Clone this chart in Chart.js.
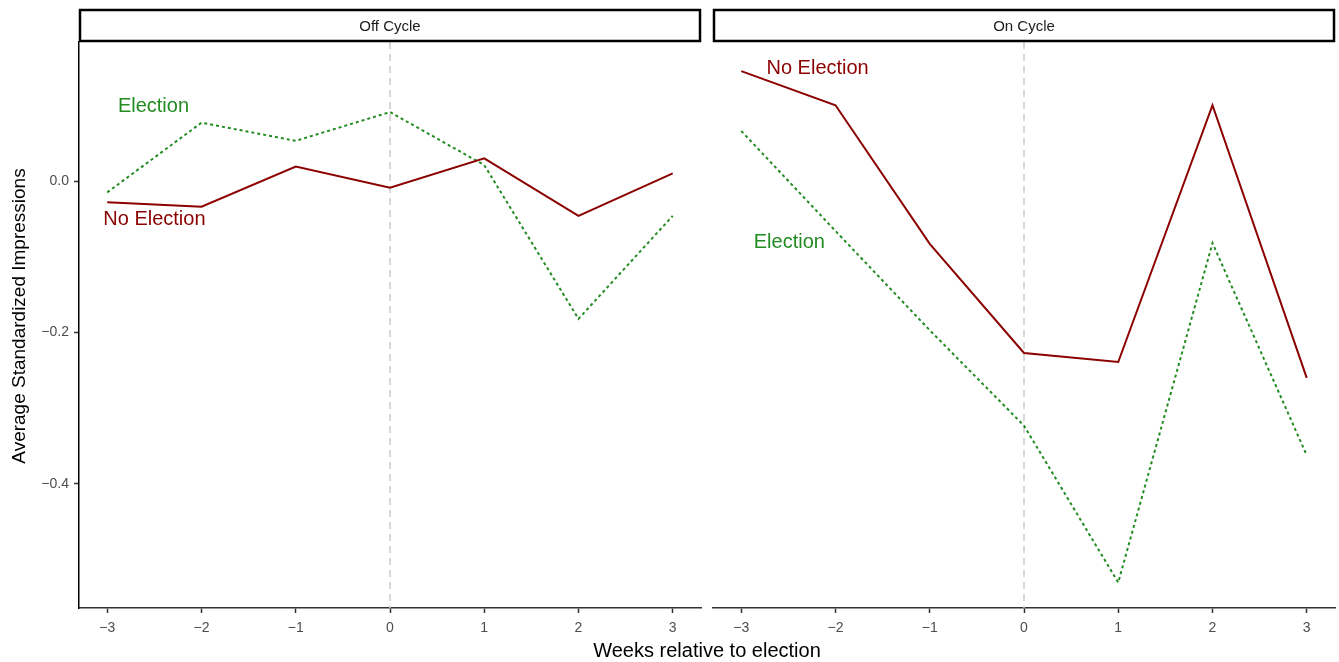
<!DOCTYPE html>
<html>
<head>
<meta charset="utf-8">
<script src="https://cdn.jsdelivr.net/npm/chart.js@4"></script>
<style>
  body { margin: 0; background: #fff; width: 1339px; height: 662px; position: relative; overflow: hidden; font-family: "Liberation Sans", Arial, sans-serif; }
  #leftWrap { position: absolute; left: 0; top: 0; width: 705px; height: 662px; }
  #rightWrap { position: absolute; left: 705px; top: 0; width: 634px; height: 662px; }
  #xTitle { position: absolute; left: 0; width: 1414px; top: 638px; text-align: center; font-size: 20px; line-height: 24px; color: #000; }
</style>
</head>
<body>
<div id="leftWrap"><canvas id="offChart"></canvas></div>
<div id="rightWrap"><canvas id="onChart"></canvas></div>
<div id="xTitle">Weeks relative to election</div>
<script>
// datos
const weeks = [-3, -2, -1, 0, 1, 2, 3];
const offNoElection = [-0.028, -0.034, 0.019, -0.009, 0.030, -0.046, 0.010];
const offElection = [-0.015, 0.077, 0.053, 0.091, 0.021, -0.182, -0.046];
const onNoElection = [0.145, 0.100, -0.083, -0.227, -0.239, 0.100, -0.260];
const onElection = [0.066, -0.066, -0.197, -0.323, -0.530, -0.082, -0.362];
const yTicks = [-0.4, -0.2, 0.0];
const panelTitles = ["Off Cycle", "On Cycle"];

const RED = "#8B0000";
const GREEN = "#228B22";
const FONT = "'Liberation Sans', Arial, sans-serif";
const minus = s => s.replace("-", "\u2212");

// dibuja la cabecera del panel, la línea vertical en 0 y las etiquetas
const panelPlugin = {
    id: "panelPlugin",
    beforeDatasetsDraw(chart) {
        const ctx = chart.ctx, a = chart.chartArea, x0 = chart.scales.x.getPixelForValue(0);
        ctx.save();
        ctx.strokeStyle = "#cccccc";
        ctx.lineWidth = 1.5;
        ctx.setLineDash([7, 5]);
        ctx.beginPath();
        ctx.moveTo(x0, a.top);
        ctx.lineTo(x0, a.bottom);
        ctx.stroke();
        ctx.restore();
    },
    afterDraw(chart, args, opts) {
        const ctx = chart.ctx, a = chart.chartArea;
        ctx.save();
        ctx.fillStyle = "#fff";
        ctx.strokeStyle = "#000";
        ctx.lineWidth = 2.5;
        ctx.fillRect(a.left, 10, a.right - a.left, 31);
        ctx.strokeRect(a.left + 1, 10, a.right - a.left - 2, 31);
        ctx.fillStyle = "#1a1a1a";
        ctx.font = "15px " + FONT;
        ctx.textAlign = "center";
        ctx.textBaseline = "middle";
        ctx.fillText(opts.title, (a.left + a.right) / 2, 26.5);
        ctx.font = "20px " + FONT;
        opts.labels.forEach(l => {
            ctx.fillStyle = l.color;
            ctx.fillText(l.text, chart.scales.x.getPixelForValue(l.x), chart.scales.y.getPixelForValue(l.y));
        });
        if (opts.yTitle) {
            ctx.translate(20, 316);
            ctx.rotate(-Math.PI / 2);
            ctx.fillStyle = "#000";
            ctx.font = "19px " + FONT;
            ctx.fillText(opts.yTitle, 0, 0);
        }
        ctx.restore();
    }
};

function makeChart(id, noElec, elec, title, labels, showY, padding) {
    const ctx = document.getElementById(id).getContext("2d");
    return new Chart(ctx, {
        type: "line",
        data: {
            datasets: [
                {
                    label: "No Election",
                    data: weeks.map((w, i) => ({ x: w, y: noElec[i] })),
                    borderColor: RED,
                    borderWidth: 2,
                    pointRadius: 0,
                    tension: 0
                },
                {
                    label: "Election",
                    data: weeks.map((w, i) => ({ x: w, y: elec[i] })),
                    borderColor: GREEN,
                    borderWidth: 2,
                    borderDash: [3, 3],
                    pointRadius: 0,
                    tension: 0
                }
            ]
        },
        options: {
            responsive: false,
            animation: false,
            layout: { padding: padding },
            plugins: {
                legend: { display: false },
                tooltip: { enabled: false },
                panelPlugin: { title: title, labels: labels, yTitle: showY ? "Average Standardized Impressions" : null }
            },
            scales: {
                x: {
                    type: "linear",
                    min: -3.3,
                    max: 3.3,
                    afterBuildTicks: s => { s.ticks = weeks.map(v => ({ value: v })); },
                    afterFit: s => { s.height = 54; },
                    border: { display: true, color: "#333", width: 1.5 },
                    grid: { drawOnChartArea: false, drawTicks: true, tickLength: 5, tickColor: "#333", tickWidth: 1.5 },
                    ticks: {
                        color: "#4d4d4d",
                        font: { family: FONT, size: 14 },
                        padding: 7,
                        maxRotation: 0,
                        callback: v => minus(String(v))
                    }
                },
                y: {
                    display: showY,
                    min: -0.5637,
                    max: 0.1835,
                    afterBuildTicks: s => { s.ticks = yTicks.map(v => ({ value: v })); },
                    afterFit: s => { s.width = showY ? 79 : 0; },
                    border: { display: true, color: "#000", width: 1.5 },
                    grid: { drawOnChartArea: false, drawTicks: true, tickLength: 5, tickColor: "#333", tickWidth: 1.5 },
                    ticks: {
                        color: "#4d4d4d",
                        font: { family: FONT, size: 14 },
                        padding: 5,
                        callback: v => minus(v.toFixed(1))
                    }
                }
            }
        },
        plugins: [panelPlugin]
    });
}

function initCharts() {
    const left = document.getElementById("offChart");
    left.width = 705; left.height = 662;
    const right = document.getElementById("onChart");
    right.width = 634; right.height = 662;

    makeChart("offChart", offNoElection, offElection, panelTitles[0], [
        { text: "Election", color: GREEN, x: -2.51, y: 0.098 },
        { text: "No Election", color: RED, x: -2.5, y: -0.051 }
    ], true, { left: 0, top: 42, right: 4, bottom: 0 });

    makeChart("onChart", onNoElection, onElection, panelTitles[1], [
        { text: "No Election", color: RED, x: -2.19, y: 0.148 },
        { text: "Election", color: GREEN, x: -2.49, y: -0.081 }
    ], false, { left: 8, top: 42, right: 4, bottom: 0 });
}

document.addEventListener("DOMContentLoaded", initCharts);
</script>
</body>
</html>
